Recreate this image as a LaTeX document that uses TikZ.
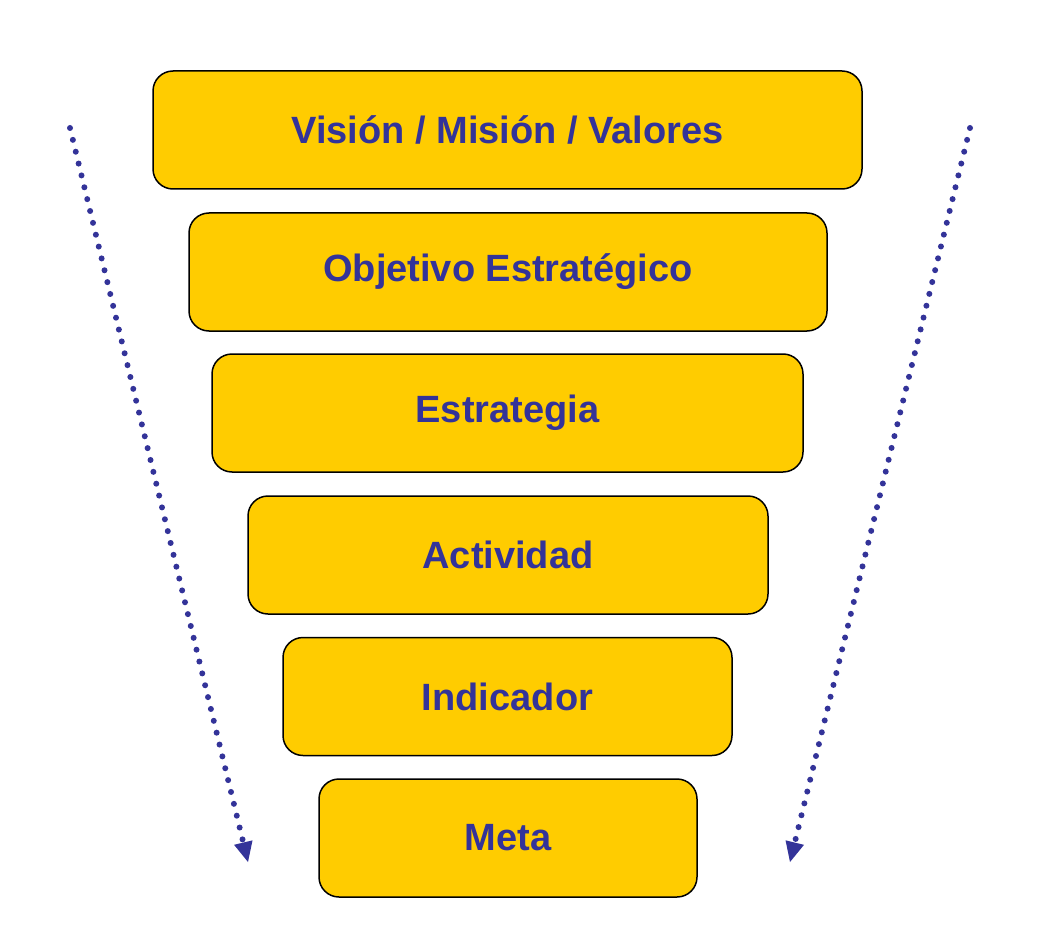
\documentclass[tikz,border=0pt]{standalone}
\usepackage{fontspec}
\setmainfont{Liberation Sans}
\usetikzlibrary{arrows.meta}
\definecolor{boxfill}{HTML}{FFCC00}
\definecolor{textblue}{HTML}{333399}
\tikzset{
  tier/.style={draw=black, line width=1.5pt, fill=boxfill, rounded corners=20pt,
    minimum height=118pt, inner sep=0pt, text=textblue,
    font=\fontsize{38}{40}\selectfont\bfseries},
  dotarrow/.style={draw=textblue, line width=6pt, line cap=round,
    dash pattern=on 0pt off 12.2pt,
    -{Triangle[length=20pt,width=19pt,line width=0pt,fill=textblue]}}
}
\begin{document}
\begin{tikzpicture}[x=1pt,y=-1pt]
\useasboundingbox (0,0) rectangle (1051,933);
\node[tier, minimum width=709pt] (v) at (507.5,130) {\raisebox{-2pt}{Visión / Misión / Valores}};
\node[tier, minimum width=638pt] (o) at (508,272) {\raisebox{-2pt}{Objetivo Estratégico}};
\node[tier, minimum width=591pt] (e) at (507.5,413) {\raisebox{-2pt}{Estrategia}};
\node[tier, minimum width=520pt] (a) at (508,555) {\raisebox{-2pt}{Actividad}};
\node[tier, minimum width=449pt] (i) at (507.5,696.5) {\raisebox{-2pt}{Indicador}};
\node[tier, minimum width=378pt] (m) at (508,838) {\raisebox{-2pt}{Meta}};
\coordinate (ls) at (70,128);
\coordinate (le) at (248,862);
\coordinate (rs) at (970,128);
\coordinate (re) at (790,862);
\draw[dotarrow] (ls) -- (le);
\draw[dotarrow] (rs) -- (re);
\end{tikzpicture}
\end{document}
